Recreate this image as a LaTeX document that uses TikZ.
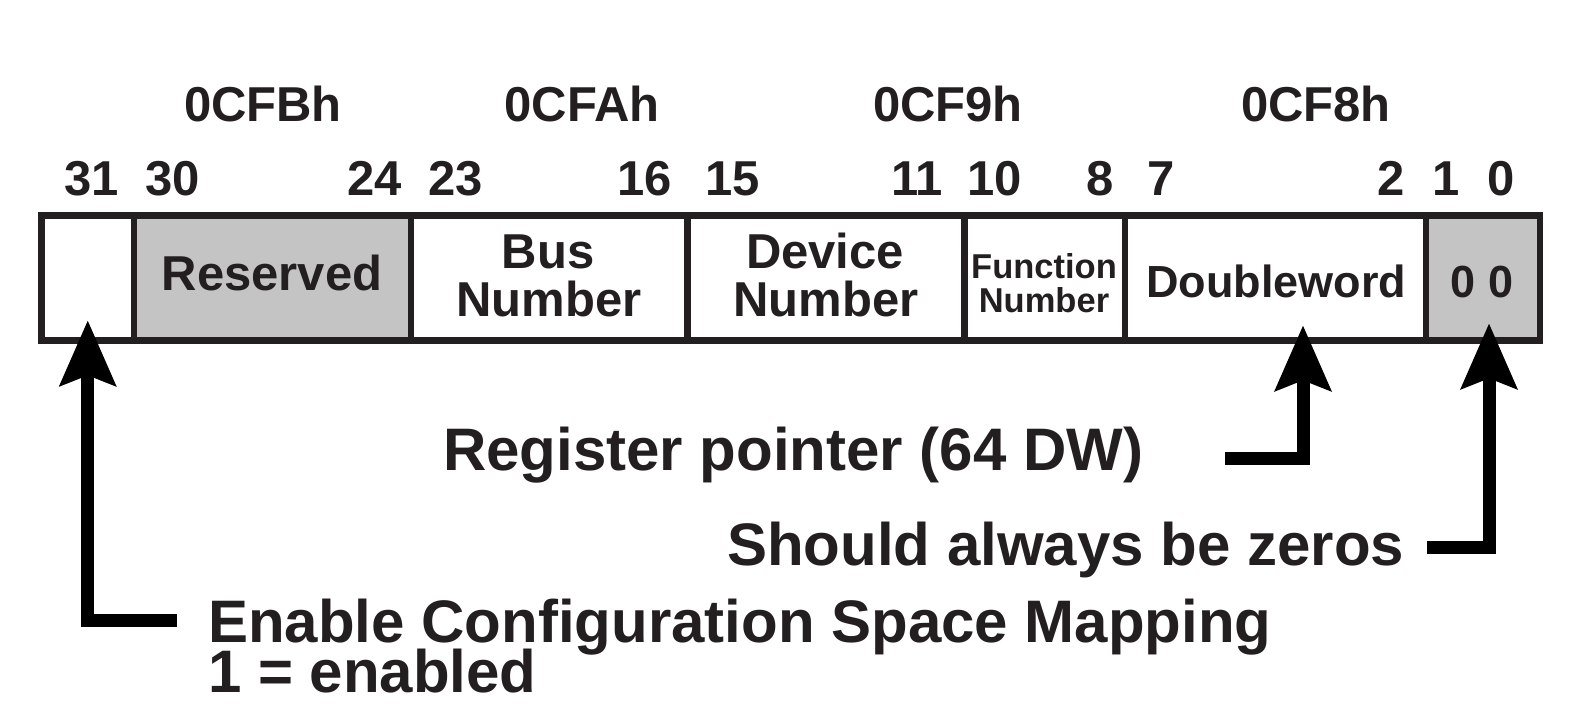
\documentclass[tikz,border=0pt]{standalone}
\usepackage{fontspec}
\setmainfont{Liberation Sans}
\usetikzlibrary{arrows.meta,calc}
\definecolor{ink}{HTML}{231F20}
\definecolor{shade}{HTML}{C4C4C4}
\begin{document}
\begin{tikzpicture}[x=1pt,y=-1pt,
  cell/.style={draw=ink, line width=6.5pt, inner sep=0pt, minimum height=125pt},
  lbl/.style={text=ink, inner sep=0pt, font=\bfseries\fontsize{49}{49}\selectfont},
  small/.style={text=ink, inner sep=0pt, font=\bfseries\fontsize{34.5}{34.5}\selectfont},
  mid/.style={text=ink, inner sep=0pt, font=\bfseries\fontsize{45}{45}\selectfont},
  note/.style={text=ink, inner sep=0pt, font=\bfseries\fontsize{60}{60}\selectfont},
  ptr/.style={draw=black, line width=13pt, line join=miter,
    -{Stealth[length=65pt,width=55pt,inset=10pt]}}
]
\useasboundingbox (0,0) rectangle (1573,718);

% register fields (outer box 41.5..1540, 215.5..340.5)
\node[cell, fill=white, minimum width=92.5pt] (c31) at (87.75,278) {};
\node[cell, fill=shade, minimum width=277pt]  (res) at (272.5,278) {};
\node[cell, fill=white, minimum width=276.5pt] (bus) at (549.25,278) {};
\node[cell, fill=white, minimum width=277pt]  (dev) at (826,278) {};
\node[cell, fill=white, minimum width=160.5pt] (fun) at (1044.75,278) {};
\node[cell, fill=white, minimum width=301pt]  (dw)  at (1275.5,278) {};
\node[cell, fill=shade, minimum width=114pt]  (zz)  at (1483,278) {};

% field names
\node[lbl, anchor=base] (tres)  at (272,290) {Reserved};
\node[lbl, anchor=base] (tbus1) at (548,268) {Bus};
\node[lbl, anchor=base] (tbus2) at (549,316) {Number};
\node[lbl, anchor=base] (tdev1) at (825,268) {Device};
\node[lbl, anchor=base] (tdev2) at (826,316) {Number};
\node[small, anchor=base] (tfun1) at (1044,278) {Function};
\node[small, anchor=base] (tfun2) at (1044,312) {Number};
\node[mid, anchor=base] (tdw) at (1276,297) {Doubleword};
\node[mid, anchor=base] (tzz) at (1482,297) {0 0};

% I/O port addresses
\node[lbl, anchor=base] (p3) at (263,121) {0CFBh};
\node[lbl, anchor=base] (p2) at (582,121) {0CFAh};
\node[lbl, anchor=base] (p1) at (948,121) {0CF9h};
\node[lbl, anchor=base] (p0) at (1316,121) {0CF8h};

% bit numbers
\node[lbl, anchor=base]      (b31) at (92,195) {31};
\node[lbl, anchor=base west] (b30) at (145,195) {30};
\node[lbl, anchor=base east] (b24) at (402,195) {24};
\node[lbl, anchor=base west] (b23) at (428,195) {23};
\node[lbl, anchor=base east] (b16) at (672,195) {16};
\node[lbl, anchor=base west] (b15) at (705,195) {15};
\node[lbl, anchor=base east] (b11) at (943,195) {11};
\node[lbl, anchor=base west] (b10) at (967,195) {10};
\node[lbl, anchor=base east] (b8)  at (1114,195) {8};
\node[lbl, anchor=base west] (b7)  at (1147,195) {7};
\node[lbl, anchor=base east] (b2)  at (1405,195) {2};
\node[lbl, anchor=base]      (b1)  at (1446,195) {1};
\node[lbl, anchor=base]      (b0)  at (1501,195) {0};

% annotations
\node[note, anchor=base west] (treg) at (443,470) {Register pointer (64 DW)};
\node[note, anchor=base west] (tzero) at (727,565) {Should always be zeros};
\node[note, anchor=base west] (ten1) at (208,642) {Enable Configuration Space Mapping};
\node[note, anchor=base west] (ten2) at (208,692) {1 = enabled};

% pointers
\draw[ptr] ([xshift=-31pt,yshift=22pt]ten1.base west) -| ([yshift=23.5pt]c31.south);
\draw[ptr] ([xshift=82pt,yshift=12pt]treg.base east) -| ([xshift=27.5pt,yshift=18.5pt]dw.south);
\draw[ptr] ([xshift=23pt,yshift=18pt]tzero.base east) -| ([xshift=6pt,yshift=20.5pt]zz.south);
\end{tikzpicture}
\end{document}
